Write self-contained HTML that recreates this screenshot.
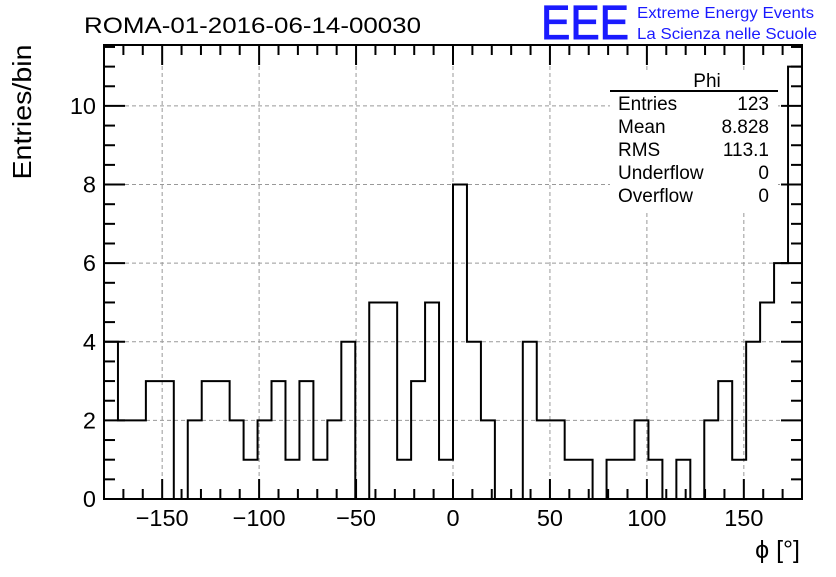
<!DOCTYPE html>
<html><head><meta charset="utf-8"><style>
body{margin:0;background:#fff;}
svg text{font-family:"Liberation Sans",sans-serif;}
</style></head><body>
<svg width="836" height="572" xmlns="http://www.w3.org/2000/svg">
<g id="grid"></g>
<g id="hist"></g>
<rect x="104" y="45" width="698" height="454" fill="none" stroke="#000" stroke-width="2"/>
<g id="ticks"></g>
<g id="labels"></g>
<text x="84" y="33" font-size="22" textLength="337" lengthAdjust="spacingAndGlyphs">ROMA-01-2016-06-14-00030</text>
<text x="541" y="39" font-size="48" fill="#1a1aff" stroke="#1a1aff" stroke-width="1" textLength="88" lengthAdjust="spacingAndGlyphs">EEE</text>
<text x="637" y="18" font-size="16" fill="#1a1aff" textLength="177" lengthAdjust="spacingAndGlyphs">Extreme Energy Events</text>
<text x="637" y="39" font-size="16" fill="#1a1aff" textLength="180" lengthAdjust="spacingAndGlyphs">La Scienza nelle Scuole</text>
<text transform="translate(31,112) rotate(-90)" font-size="26" text-anchor="middle" textLength="135" lengthAdjust="spacingAndGlyphs">Entries/bin</text>
<text x="800" y="558" font-size="25" text-anchor="end">ϕ [°]</text>
<g font-size="19">
<rect x="610" y="70" width="168" height="140" fill="#fff"/>
<text x="707" y="87" text-anchor="middle">Phi</text>
<line x1="610" y1="91" x2="778" y2="91" stroke="#000" stroke-width="2"/>
<text x="618" y="110">Entries</text><text x="769" y="110" text-anchor="end">123</text>
<text x="618" y="133">Mean</text><text x="769" y="133" text-anchor="end">8.828</text>
<text x="618" y="156">RMS</text><text x="769" y="156" text-anchor="end">113.1</text>
<text x="618" y="179">Underflow</text><text x="769" y="179" text-anchor="end">0</text>
<text x="618" y="202">Overflow</text><text x="769" y="202" text-anchor="end">0</text>
</g>
</svg>
<script>
const counts=[4,2,2,3,3,0,2,3,3,2,1,2,3,1,3,1,2,4,0,5,5,1,3,5,1,8,4,2,0,0,4,2,2,1,1,0,1,1,2,1,0,1,0,2,3,1,4,5,6,11];
const xTicks=[-150,-100,-50,0,50,100,150];
const yTicks=[0,2,4,6,8,10];
const xMin=-180,xMax=180,yMin=0,yMax=11.55;
const X0=104,X1=802,Y0=499,Y1=45;
const sx=v=>X0+(v-xMin)/(xMax-xMin)*(X1-X0);
const sy=v=>Y0-(v-yMin)/(yMax-yMin)*(Y0-Y1);
const NS="http://www.w3.org/2000/svg";
function mk(t,a,p){const e=document.createElementNS(NS,t);for(const k in a)e.setAttribute(k,a[k]);p.appendChild(e);return e;}
const grid=document.getElementById('grid'),ticks=document.getElementById('ticks'),labels=document.getElementById('labels'),hist=document.getElementById('hist');
xTicks.forEach(v=>{const l=mk('line',{x1:sx(v),x2:sx(v),y1:Y1,y2:Y0,stroke:'#999','stroke-dasharray':'4,3'},grid);

const t=mk('text',{x:sx(v),y:526,'font-size':23.5,'text-anchor':'middle'},labels);t.textContent=(v<0?'\u2212'+(-v):v);
});
yTicks.forEach(v=>{if(v>0){const l=mk('line',{x1:X0,x2:X1,y1:sy(v),y2:sy(v),stroke:'#999','stroke-dasharray':'4,3'},grid);
}
const t=mk('text',{x:96,y:sy(v)+8,'font-size':23.5,'text-anchor':'end'},labels);t.textContent=v;
});
for(let v=-180;v<=180;v+=10){const L=(v%50===0)?20:10;
mk('line',{x1:sx(v),x2:sx(v),y1:Y0,y2:Y0-L,stroke:'#000','stroke-width':2},ticks);
mk('line',{x1:sx(v),x2:sx(v),y1:Y1,y2:Y1+L,stroke:'#000','stroke-width':2},ticks);}
for(let v=0;v<=11.5;v+=0.5){const L=(v%2===0)?21:11;
mk('line',{x1:X0,x2:X0+L,y1:sy(v),y2:sy(v),stroke:'#000','stroke-width':2},ticks);
mk('line',{x1:X1,x2:X1-L,y1:sy(v),y2:sy(v),stroke:'#000','stroke-width':2},ticks);}
const w=(xMax-xMin)/counts.length;let d='M'+sx(xMin)+','+sy(0);
counts.forEach((c,i)=>{d+=' L'+sx(xMin+i*w)+','+sy(c)+' L'+sx(xMin+(i+1)*w)+','+sy(c);});
d+=' L'+sx(xMax)+','+sy(0);
const p=mk('path',{d:d,fill:'none',stroke:'#000','stroke-width':2},hist);


</script>
</body></html>
